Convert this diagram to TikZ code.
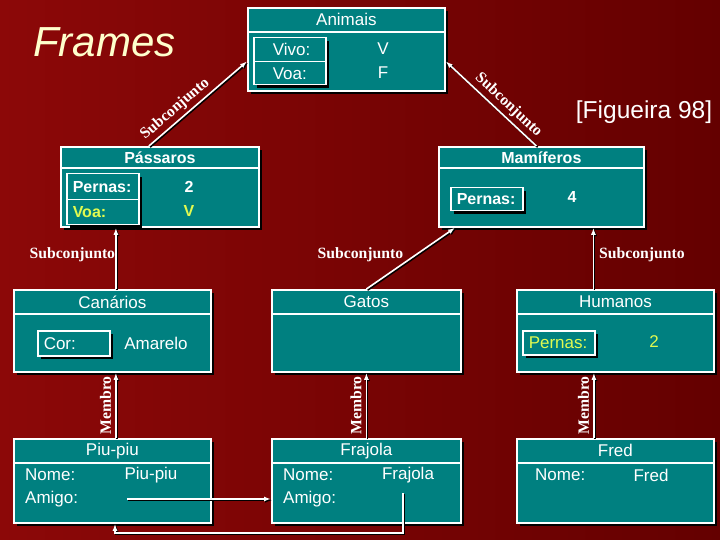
\documentclass[tikz,border=0pt]{standalone}
\usepackage{fontspec}
\setmainfont{Liberation Serif}
\setsansfont{Liberation Sans}
\usetikzlibrary{arrows.meta,shadows}
\definecolor{bgleft}{RGB}{140,8,8}
\definecolor{bgright}{RGB}{100,0,0}
\definecolor{framefill}{RGB}{0,128,128}
\definecolor{cream}{RGB}{255,255,204}
\definecolor{slotyellow}{RGB}{225,250,80}

\begin{document}
\begin{tikzpicture}[
  x=1pt, y=-1pt,
  >={Latex[length=7pt,width=5pt]},
  boxshadow/.style={drop shadow={shadow xshift=3pt, shadow yshift=-3pt, fill=black, opacity=1}},
  frame/.style={rectangle, draw=white, line width=1.8pt, fill=framefill, anchor=north west,
    inner sep=0pt, boxshadow, text=white, font=\sffamily\fontsize{17}{20}\selectfont},
  boldframe/.style={frame, font=\sffamily\bfseries\fontsize{16}{19}\selectfont},
  slot/.style={rectangle, draw=white, line width=1.5pt, fill=framefill, anchor=north west,
    minimum width=72pt, text width=60pt, inner xsep=6pt, inner ysep=0pt, align=left,
    boxshadow, text=white, font=\sffamily\fontsize{17}{20}\selectfont},
  boldslot/.style={slot, font=\sffamily\bfseries\fontsize{16}{19}\selectfont},
  field/.style={text=white, inner sep=0pt, font=\sffamily\fontsize{17}{20}\selectfont},
  boldfield/.style={field, font=\sffamily\bfseries\fontsize{16}{19}\selectfont},
  conn/.style={->, white, line width=1.6pt,
    preaction={draw=black, line width=1.6pt, ->, transform canvas={xshift=1.2pt, yshift=-1.2pt}}},
  rel/.style={text=white, inner sep=0pt, font=\rmfamily\bfseries\fontsize{15.7}{18}\selectfont}
]
  \useasboundingbox (0,0) rectangle (720,540);
  \shade[left color=bgleft, right color=bgright] (0,0) rectangle (720,540);

  \node[font=\sffamily\itshape\fontsize{42}{48}\selectfont, text=cream, anchor=base west,
    inner sep=0pt] (title) at (33,57) {Frames};
  \node[text=white, font=\sffamily\fontsize{24.5}{28}\selectfont] (source) at (644,112) {[Figueira 98]};

  % Animais
  \node[frame, minimum width=197pt, minimum height=24pt] (animaishead) at (247,7) {Animais};
  \node[frame, minimum width=197pt, minimum height=59pt] (animaisbody) at (247,31) {};
  \node[slot, minimum height=24pt, inner xsep=19pt, text width=34pt] (vivoslot) at (253,37) {Vivo:};
  \node[slot, minimum height=23pt, inner xsep=19pt, text width=34pt] (voaslot) at (253,61) {Voa:};
  \node[field] (vivoval) at (383,49) {V};
  \node[field] (voaval) at (383,73) {F};

  % Passaros
  \node[boldframe, minimum width=198pt, minimum height=21pt] (passaroshead) at (60,146) {Pássaros};
  \node[boldframe, minimum width=198pt, minimum height=59pt] (passarosbody) at (60,167) {};
  \node[boldslot, minimum height=26pt] (pernaspslot) at (66,173) {Pernas:};
  \node[boldslot, minimum height=25pt, text=slotyellow] (voapslot) at (66,199) {Voa:};
  \node[boldfield] (pernaspval) at (189,187) {2};
  \node[boldfield, text=slotyellow] (voapval) at (189,211) {V};

  % Mamiferos
  \node[boldframe, minimum width=205pt, minimum height=21pt] (mamiferoshead) at (438,146) {Mamíferos};
  \node[boldframe, minimum width=205pt, minimum height=59pt] (mamiferosbody) at (438,167) {};
  \node[boldslot, minimum height=23pt] (pernasmslot) at (450,187) {Pernas:};
  \node[boldfield] (pernasmval) at (572,197) {4};

  % Canarios
  \node[frame, minimum width=197pt, minimum height=24pt] (canarioshead) at (13,289) {Canários};
  \node[frame, minimum width=197pt, minimum height=58pt] (canariosbody) at (13,313) {};
  \node[slot, minimum width=71pt, minimum height=25pt] (corslot) at (37,330) {Cor:};
  \node[field] (corval) at (156,343) {Amarelo};

  % Gatos
  \node[frame, minimum width=189pt, minimum height=24pt] (gatoshead) at (271,289) {Gatos};
  \node[frame, minimum width=189pt, minimum height=58pt] (gatosbody) at (271,313) {};

  % Humanos
  \node[frame, minimum width=197pt, minimum height=24pt] (humanoshead) at (516,289) {Humanos};
  \node[frame, minimum width=197pt, minimum height=58pt] (humanosbody) at (516,313) {};
  \node[slot, minimum height=24pt, text=slotyellow] (pernashslot) at (522,330) {Pernas:};
  \node[field, text=slotyellow] (pernashval) at (654,342) {2};

  % Piu-piu
  \node[frame, minimum width=197pt, minimum height=24pt] (piuhead) at (13,438) {Piu-piu};
  \node[frame, minimum width=197pt, minimum height=60pt] (piubody) at (13,462) {};
  \node[field, anchor=west] (piunome) at (25,475) {Nome:};
  \node[field] (piunomeval) at (151,475) {Piu-piu};
  \node[field, anchor=west] (piuamigotxt) at (25,499) {Amigo:};

  % Frajola
  \node[frame, minimum width=189pt, minimum height=24pt] (frajolahead) at (271,438) {Frajola};
  \node[frame, minimum width=189pt, minimum height=60pt] (frajolabody) at (271,462) {};
  \node[field, anchor=west] (frajnome) at (283,475) {Nome:};
  \node[field] (frajnomeval) at (408,475) {Frajola};
  \node[field, anchor=west] (frajamigotxt) at (283,499) {Amigo:};

  % Fred
  \node[frame, minimum width=197pt, minimum height=24pt] (fredhead) at (516,438) {Fred};
  \node[frame, minimum width=197pt, minimum height=60pt] (fredbody) at (516,462) {};
  \node[field, anchor=west] (frednome) at (535,475) {Nome:};
  \node[field] (frednomeval) at (651,475) {Fred};

  % Subconjunto
  \draw[conn] ([xshift=-11pt]passaroshead.north) -- (animaisbody.west)
    node[rel, pos=0.34, sloped, above=3pt] {Subconjunto};
  \draw[conn] ([xshift=-5pt]mamiferoshead.north) -- (animaisbody.east)
    node[rel, pos=0.39, sloped, above=3pt] {Subconjunto};
  \coordinate (cantop) at ([xshift=3.5pt]canarioshead.north);
  \draw[conn] (cantop) -- (cantop |- passarosbody.south)
    node[rel, pos=0.56, anchor=east] {Subconjunto};
  \draw[conn] (gatoshead.north) -- ([xshift=17pt]mamiferosbody.south west)
    node[rel, pos=0.56, anchor=east, xshift=-12pt] {Subconjunto};
  \coordinate (humtop) at ([xshift=-22pt]humanoshead.north);
  \draw[conn] (humtop) -- (humtop |- mamiferosbody.south)
    node[rel, pos=0.56, anchor=west, xshift=5pt] {Subconjunto};

  % Membro
  \coordinate (piutop) at ([xshift=3.5pt]piuhead.north);
  \draw[conn] (piutop) -- (piutop |- canariosbody.south)
    node[rel, midway, rotate=90, anchor=south, inner ysep=4pt] {Membro};
  \draw[conn] (frajolahead.north) -- (frajolahead.north |- gatosbody.south)
    node[rel, midway, rotate=90, anchor=south, inner ysep=4pt] {Membro};
  \coordinate (fredtop) at ([xshift=-21.5pt]fredhead.north);
  \draw[conn] (fredtop) -- (fredtop |- humanosbody.south)
    node[rel, midway, rotate=90, anchor=south, inner ysep=4pt] {Membro};

  % Amigo
  \coordinate (piuamigo) at (127,499);
  \draw[conn] (piuamigo) -- (piuamigo -| frajolabody.west);
  \coordinate (frajamigo) at (403,493);
  \coordinate (amigoturn) at (115,533);
  \draw[conn] (frajamigo) |- (amigoturn) -- (amigoturn |- piubody.south);
\end{tikzpicture}
\end{document}
